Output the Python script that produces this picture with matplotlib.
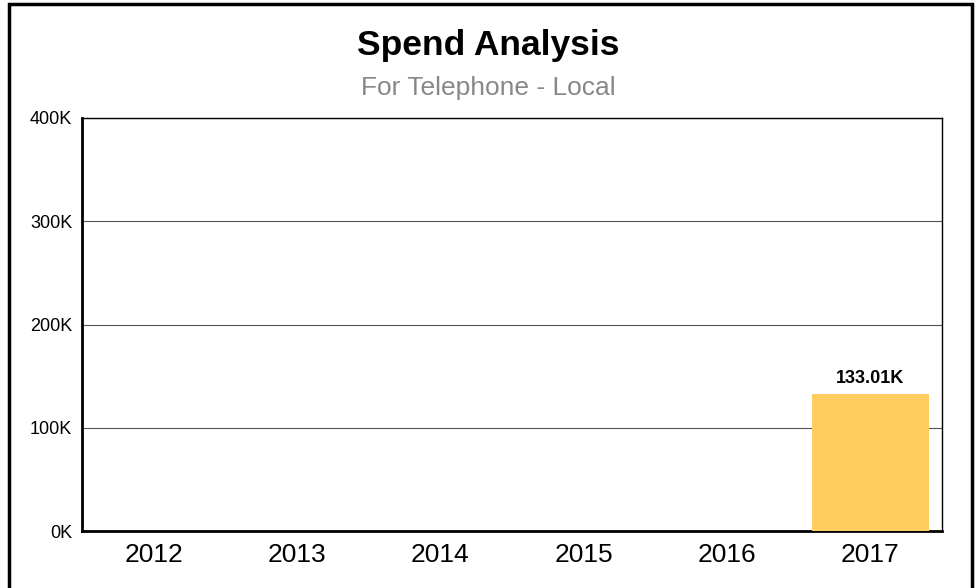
import matplotlib.pyplot as plt
import matplotlib.patches as mpatches
import matplotlib as mpl
import numpy as np

mpl.rcParams['font.family'] = 'Liberation Sans'

# Data
years = ['2012', '2013', '2014', '2015', '2016', '2017']
spend = [0, 0, 0, 0, 0, 133010]
value_labels = ['', '', '', '', '', '133.01K']
y_ticks = [0, 100000, 200000, 300000, 400000]
y_tick_labels = ['0K', '100K', '200K', '300K', '400K']

fig = plt.figure(figsize=(9.76, 5.88), dpi=100)
ax = fig.add_axes([82 / 976, 1 - 531 / 588, 860 / 976, 413 / 588])

x = np.arange(len(years))
bars = ax.bar(x, spend, width=0.82, color='#FFCC5F', zorder=3)
for b, lab in zip(bars, value_labels):
    if lab:
        ax.text(b.get_x() + b.get_width() / 2, b.get_height() + 6000, lab,
                ha='center', va='bottom', fontsize=13, fontweight='bold')

ax.set_xlim(-0.5, len(years) - 0.5)
ax.set_ylim(0, 400000)
ax.set_xticks(x)
ax.set_xticklabels(years, fontsize=19)
ax.set_yticks(y_ticks)
ax.set_yticklabels(y_tick_labels, fontsize=13)
ax.tick_params(axis='both', length=0)
ax.tick_params(axis='x', pad=9)
ax.tick_params(axis='y', pad=7)
ax.grid(axis='y', color='#555555', linewidth=0.8, zorder=0)

for side in ['left', 'bottom']:
    ax.spines[side].set_linewidth(2)
for side in ['top', 'right']:
    ax.spines[side].set_linewidth(1)

fig.text(0.5, 1 - 45 / 588, 'Spend Analysis', ha='center', va='center',
         fontsize=25.5, fontweight='bold')
fig.text(0.5, 1 - 88 / 588, 'For Telephone - Local', ha='center', va='center',
         fontsize=19, color='#888888')

# outer frame
frame = mpatches.Rectangle((9 / 976, -0.05), 963 / 976, 1.05 - 4 / 588,
                           transform=fig.transFigure, fill=False,
                           edgecolor='black', linewidth=2.5, clip_on=False)
fig.patches.append(frame)

fig.savefig('out.png', dpi=100)
